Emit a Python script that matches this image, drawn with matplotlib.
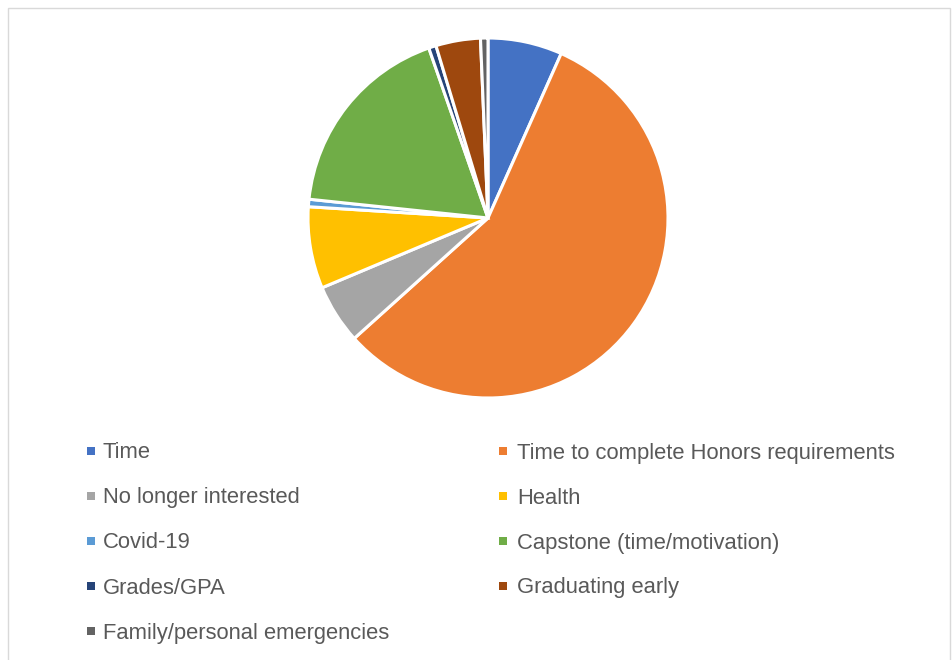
import matplotlib.pyplot as plt
from matplotlib.patches import Rectangle

# Reasons for leaving (counts)
labels = ["Time", "Time to complete Honors requirements", "No longer interested",
          "Health", "Covid-19", "Capstone (time/motivation)", "Grades/GPA",
          "Graduating early", "Family/personal emergencies"]
counts = [10, 85, 8, 11, 1, 27, 1, 6, 1]
colors = ["#4472C4", "#ED7D31", "#A5A5A5", "#FFC000", "#5B9BD5",
          "#70AD47", "#264478", "#9E480E", "#636363"]

W, H = 953, 660
fig = plt.figure(figsize=(W / 100, H / 100), dpi=100)

# chart border
fig.patches.append(Rectangle((8 / W, -0.02), 942 / W, (652 / H) + 0.02,
                             transform=fig.transFigure, fill=False,
                             edgecolor="#D9D9D9", linewidth=1))

# pie axes: center (488, 218) px, radius ~180 px
cx, cy, r = 488, 218, 180
ax = fig.add_axes([(cx - r) / W, 1 - (cy + r) / H, 2 * r / W, 2 * r / H])
ax.pie(counts, colors=colors, startangle=90, counterclock=False, radius=1,
       wedgeprops=dict(edgecolor="white", linewidth=2.2))
ax.set_xlim(-1, 1)
ax.set_ylim(-1, 1)
ax.set_aspect("equal")
ax.axis("off")

# legend, filled row by row in two columns
marker_x = [87, 499]
text_x = [103, 517]
row_y0, row_dy = 451, 45
for i, (lab, col) in enumerate(zip(labels, colors)):
    c = i % 2
    y = row_y0 + (i // 2) * row_dy
    fig.patches.append(Rectangle((marker_x[c] / W, 1 - (y + 4) / H), 8.5 / W, 8.5 / H,
                                 transform=fig.transFigure, facecolor=col,
                                 edgecolor="none"))
    fig.text(text_x[c] / W, 1 - (y + 2) / H, lab, fontsize=15.8, color="#595959",
             family="Liberation Sans", va="center", ha="left")

fig.savefig("out.png", dpi=100)
